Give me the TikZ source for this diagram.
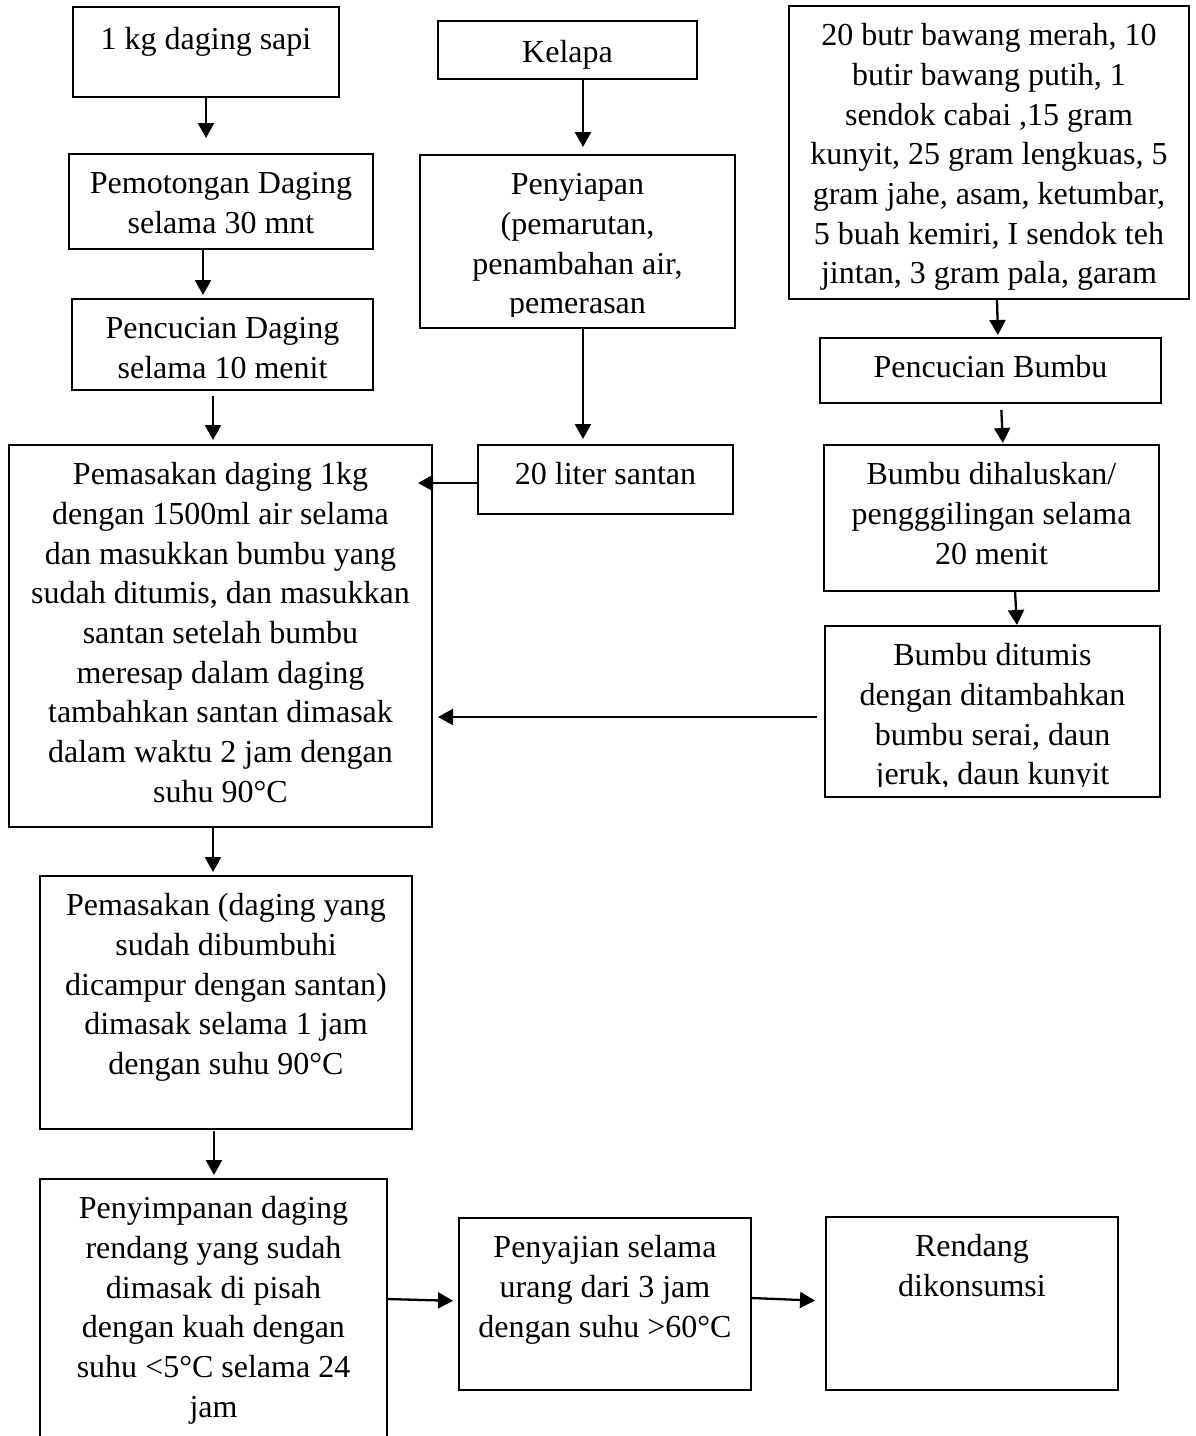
\documentclass[tikz,border=0pt]{standalone}
\usepackage{fontspec}
\setmainfont{Liberation Serif}
\usetikzlibrary{arrows.meta}
\newcommand\mkbox[5]{\node[box, anchor=north west, minimum width=#4pt, minimum height=#5pt] (#1) at (#2,#3) {};}
\newcommand\mktext[3][11.5]{\node[txt] (#2t) at ([yshift=-#1pt]#2.north) {\rule{0pt}{28pt}#3};}
\begin{document}
\begin{tikzpicture}[x=1pt,y=-1pt,
  box/.style={draw, line width=1.2pt, rectangle, inner sep=0pt, outer sep=0pt},
  txt/.style={font=\fontsize{32}{39.7}\selectfont, inner sep=0pt, align=center, anchor=north},
  arr/.style={line width=2.3pt, -{Triangle[length=15pt,width=16pt]}}]
\clip (0,0) rectangle (1195,1436);
\fill[white] (0,0) rectangle (1195,1436);
% boxes
\mkbox{b1}{73}{7}{266}{90}
\mkbox{b2}{69}{154}{304}{95}
\mkbox{b3}{72}{299}{301}{91}
\mkbox{big}{9}{445}{423}{382}
\mkbox{kel}{438}{21}{259}{58}
\mkbox{pen}{420}{155}{315}{173}
\mkbox{san}{478}{445}{255}{69}
\mkbox{bum}{789}{6}{400}{293}
\mkbox{pcb}{820}{338}{341}{65}
\mkbox{hal}{824}{445}{335}{146}
\mkbox{tum}{825}{626}{335}{171}
\mkbox{ptwo}{40}{876}{372}{253}
\mkbox{sim}{40}{1179}{347}{320}
\mkbox{saj}{459}{1218}{292}{172}
\mkbox{ren}{826}{1217}{292}{173}
% texts
\mktext[14]{b1}{1 kg daging sapi}
\mktext{b2}{Pemotongan Daging\\selama 30 mnt}
\mktext{b3}{Pencucian Daging\\selama 10 menit}
\mktext{big}{Pemasakan daging 1kg\\dengan 1500ml air selama\\dan masukkan bumbu yang\\sudah ditumis, dan masukkan\\santan setelah bumbu\\meresap dalam daging\\tambahkan santan dimasak\\dalam waktu 2 jam dengan\\suhu 90°C}
\mktext[13]{kel}{Kelapa}
\begin{scope}
\clip (420,155) rectangle (735,316);
\mktext{pen}{Penyiapan\\(pemarutan,\\penambahan air,\\pemerasan}
\end{scope}
\mktext{san}{20 liter santan}
\begin{scope}
\clip (789,6) rectangle (1189,290);
\mktext{bum}{20 butr bawang merah, 10\\butir bawang putih, 1\\sendok cabai ,15 gram\\kunyit, 25 gram lengkuas, 5\\gram jahe, asam, ketumbar,\\5 buah kemiri, I sendok teh\\jintan, 3 gram pala, garam}
\end{scope}
\mktext{pcb}{Pencucian Bumbu}
\mktext{hal}{Bumbu dihaluskan/\\pengggilingan selama\\20 menit}
\begin{scope}
\clip (825,626) rectangle (1160,786);
\mktext{tum}{Bumbu ditumis\\dengan ditambahkan\\bumbu serai, daun\\jeruk, daun kunyit}
\end{scope}
\mktext{ptwo}{Pemasakan (daging yang\\sudah dibumbuhi\\dicampur dengan santan)\\dimasak selama 1 jam\\dengan suhu 90°C}
\mktext{sim}{Penyimpanan daging\\rendang yang sudah\\dimasak di pisah\\dengan kuah dengan\\suhu <5°C selama 24\\jam}
\mktext{saj}{Penyajian selama\\urang dari 3 jam\\dengan suhu >60°C}
\mktext{ren}{Rendang\\dikonsumsi}
% arrows
\draw[arr, shorten >=16pt] (b1.south) -- (b1.south |- b2.north);
\draw[arr, shorten >=4pt] (b2.south -| 203,0) -- (b3.north -| 203,0);
\draw[arr, shorten <=6pt, shorten >=5pt] (b3.south -| 213,0) -- (big.north -| 213,0);
\draw[arr, shorten >=8pt] (kel.south -| 583,0) -- (pen.north -| 583,0);
\draw[arr, shorten >=6pt] (pen.south -| 583,0) -- (san.north -| 583,0);
\draw[arr, shorten >=-14pt] (san.west |- 0,483) -- (big.east |- 0,483);
\draw[arr, shorten <=1pt, shorten >=3pt] (bum.south -| 997,0) -- (pcb.north -| 998,0);
\draw[arr, shorten <=7pt, shorten >=2pt] (pcb.south -| 1001,0) -- (hal.north -| 1003,0);
\draw[arr, shorten >=1pt] (hal.south -| 1015,0) -- (tum.north -| 1017,0);
\draw[arr, shorten <=8pt, shorten >=6pt] (tum.west |- 0,717) -- (big.east |- 0,717);
\draw[arr, shorten >=4pt] (big.south -| 213,0) -- (ptwo.north -| 213,0);
\draw[arr, shorten <=2pt, shorten >=4pt] (ptwo.south -| 214,0) -- (sim.north -| 214,0);
\draw[arr, shorten >=6pt] (sim.east |- 0,1299) -- (saj.west |- 0,1301);
\draw[arr, shorten >=11pt] (saj.east |- 0,1298) -- (ren.west |- 0,1301);
\end{tikzpicture}
\end{document}
